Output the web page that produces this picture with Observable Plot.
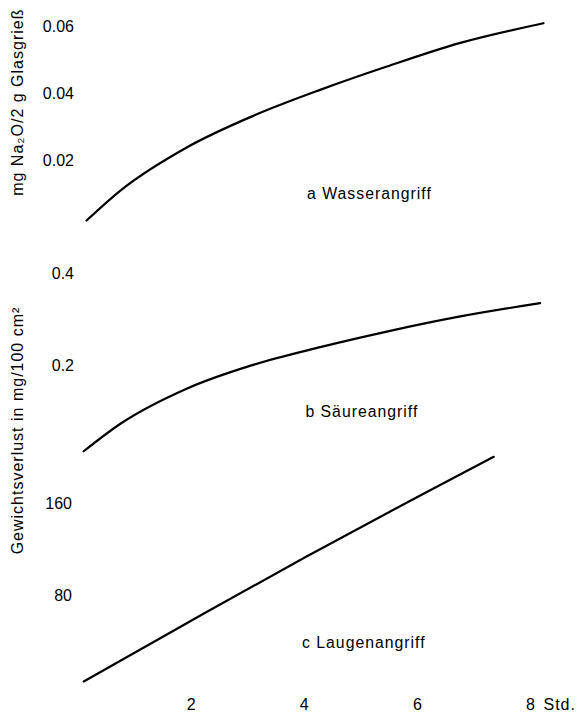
<!DOCTYPE html>
<html>
<head>
<meta charset="utf-8">
<script src="https://cdn.jsdelivr.net/npm/d3@7"></script>
<script src="https://cdn.jsdelivr.net/npm/@observablehq/plot@0.6"></script>
<style>
  html, body { margin: 0; padding: 0; background: white; }
  #chart svg { display: block; }
  #chart svg g[aria-label="text"] text { letter-spacing: 1px; }
</style>
</head>
<body>
<div id="chart"></div>
<script>
// Time in hours (x) for each panel
const hoursA = [0.15, 0.75, 1.93, 3.11, 4.28, 5.46, 6.76, 8.23];
const valuesA = [0.002, 0.011, 0.024, 0.0335, 0.0412, 0.0482, 0.0553, 0.0612];

const hoursB = [0.1, 0.75, 1.93, 3.11, 4.28, 5.46, 6.76, 8.17];
const valuesB = [0.013, 0.073, 0.150, 0.202, 0.240, 0.274, 0.307, 0.336];

const hoursC = [0.1, 2, 4, 6, 7.35];
const valuesC = [5, 58, 113, 166, 201];

const ticksA = [0.02, 0.04, 0.06];
const ticksB = [0.2, 0.4];
const ticksC = [80, 160];
const ticksX = [2, 4, 6, 8];
const xUnit = ["Std."];

const labels = ["a Wasserangriff", "b Säureangriff", "c Laugenangriff"];
const titleA = ["mg Na₂O/2 g Glasgrieß"];
const titleBC = ["Gewichtsverlust in mg/100 cm²"];

const toRows = (ts, vs) => ts.map((t, i) => ({t, v: vs[i]}));
const fmt = d => String(d);

const font = "'Liberation Sans', Arial, sans-serif";
const common = {
  width: 583,
  marginLeft: 77.5,
  marginRight: 53,
  style: {fontFamily: font, fontSize: "16px", color: "black", background: "none", overflow: "visible"}
};
const lineOpts = {x: "t", y: "v", curve: "monotone-x", stroke: "black", strokeWidth: 2.2};
const noteOpts = {text: d => d, textAnchor: "start", fontSize: 15.8, fill: "black"};
const titleOpts = {text: d => d, frameAnchor: "top-left", textAnchor: "middle", rotate: -90, fontSize: 16, fill: "black"};
const axisOpts = {tickSize: 0, label: null, fontSize: 16, tickFormat: fmt};

const panelA = Plot.plot({
  ...common,
  height: 240,
  marginTop: 26.7,
  marginBottom: 13.3,
  x: {domain: [0, 8], axis: null},
  y: {domain: [0, 0.06], axis: null},
  marks: [
    Plot.axisY({...axisOpts, ticks: ticksA, tickPadding: 4}),
    Plot.line(toRows(hoursA, valuesA), lineOpts),
    Plot.text([labels[0]], {...noteOpts, x: 4.05, y: 0.0101}),
    Plot.text(titleA, {...titleOpts, dx: -66, dy: 75})
  ]
});

const panelB = Plot.plot({
  ...common,
  height: 230,
  marginTop: 33.3,
  marginBottom: 13.3,
  x: {domain: [0, 8], axis: null},
  y: {domain: [0, 0.4], axis: null},
  marks: [
    Plot.axisY({...axisOpts, ticks: ticksB, tickPadding: 4}),
    Plot.line(toRows(hoursB, valuesB), lineOpts),
    Plot.text([labels[1]], {...noteOpts, x: 4.02, y: 0.098})
  ]
});

const panelC = Plot.plot({
  ...common,
  height: 247,
  marginTop: 33.3,
  marginBottom: 30.3,
  x: {domain: [0, 8], axis: null},
  y: {domain: [0, 160], axis: null},
  marks: [
    Plot.axisY({...axisOpts, ticks: ticksC, tickPadding: 6}),
    Plot.axisX({...axisOpts, ticks: ticksX, tickPadding: 11}),
    Plot.text(xUnit, {text: d => d, x: 8, frameAnchor: "bottom", lineAnchor: "top", dy: 11, dx: 13, textAnchor: "start", fontSize: 16}),
    Plot.line(toRows(hoursC, valuesC), lineOpts),
    Plot.text([labels[2]], {...noteOpts, x: 3.96, y: 38.4}),
    Plot.text(titleBC, {...titleOpts, dx: -66.5, dy: -73.3})
  ]
});

const chart = document.getElementById("chart");
chart.append(panelA, panelB, panelC);
</script>
</body>
</html>
